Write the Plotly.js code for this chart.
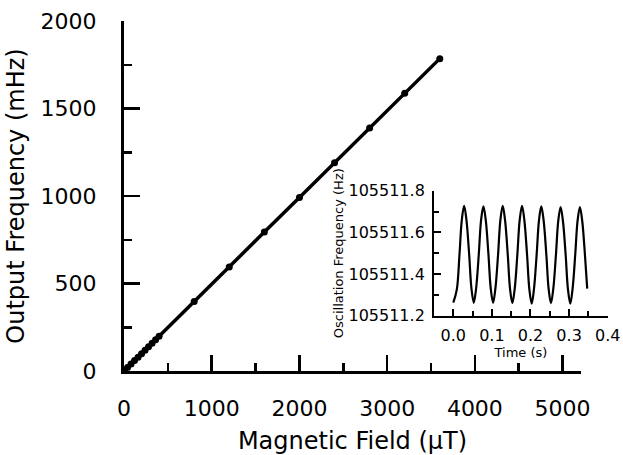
<!DOCTYPE html>
<html>
<head>
<meta charset="utf-8">
<script src="https://cdn.plot.ly/plotly-3.0.1.min.js"></script>
<style>html,body{margin:0;padding:0;background:#fff;}#chart{width:623px;height:455px;}</style>
</head>
<body>
<div id="chart"></div>
<script>
// Main series: magnetic field (µT) vs output frequency (mHz)
const fieldUT = [0, 40, 80, 120, 160, 200, 240, 280, 320, 360, 400, 800, 1200, 1600, 2000, 2400, 2800, 3200, 3600];
const outputMHz = [0, 20, 40, 60, 79, 99, 119, 139, 159, 179, 198, 397, 595, 794, 992, 1190, 1389, 1587, 1785];

// Inset series: time (s) vs oscillation frequency (Hz)
const timeS = [0.000, 0.009, 0.016, 0.022, 0.028, 0.034, 0.041, 0.047, 0.053, 0.059, 0.066, 0.072, 0.078, 0.084, 0.091, 0.097,
  0.103, 0.109, 0.116, 0.122, 0.128, 0.134, 0.141, 0.147, 0.153, 0.159, 0.166, 0.172, 0.178, 0.184, 0.191, 0.197,
  0.203, 0.209, 0.216, 0.222, 0.228, 0.234, 0.241, 0.247, 0.253, 0.259, 0.266, 0.272, 0.278, 0.284, 0.291, 0.297,
  0.303, 0.309, 0.316, 0.322, 0.328, 0.334, 0.341, 0.347];
const oscHz = [105511.263, 105511.325, 105511.495, 105511.660, 105511.728, 105511.660, 105511.495, 105511.330,
  105511.262, 105511.330, 105511.495, 105511.660, 105511.725, 105511.660, 105511.495, 105511.330,
  105511.262, 105511.330, 105511.495, 105511.660, 105511.728, 105511.660, 105511.495, 105511.328,
  105511.260, 105511.328, 105511.495, 105511.660, 105511.728, 105511.660, 105511.495, 105511.328,
  105511.258, 105511.328, 105511.495, 105511.658, 105511.725, 105511.658, 105511.495, 105511.328,
  105511.260, 105511.328, 105511.495, 105511.656, 105511.722, 105511.656, 105511.495, 105511.328,
  105511.258, 105511.328, 105511.495, 105511.656, 105511.722, 105511.656, 105511.495, 105511.330];

const xTitle = 'Magnetic Field (\u03BCT)';
const yTitle = 'Output Frequency (mHz)';
const x2Title = 'Time (s)';
const y2Title = 'Oscillation Frequency (Hz)';
const x2TickVals = [0, 0.1, 0.2, 0.3, 0.4];
const x2TickText = ['0.0', '0.1', '0.2', '0.3', '0.4'];

const FONT = 'DejaVu Sans, Liberation Sans, Arial, sans-serif';

const traces = [
  {
    x: fieldUT, y: outputMHz, type: 'scatter', mode: 'lines+markers',
    line: {color: '#000', width: 3.5},
    marker: {color: '#000', size: 7},
    xaxis: 'x', yaxis: 'y', showlegend: false, hoverinfo: 'skip'
  },
  {
    x: timeS, y: oscHz, type: 'scatter', mode: 'lines',
    line: {color: '#000', width: 2.2, shape: 'spline', smoothing: 1},
    xaxis: 'x2', yaxis: 'y2', showlegend: false, hoverinfo: 'skip', cliponaxis: false
  }
];

const layout = {
  width: 623, height: 455,
  margin: {l: 124, r: 10, t: 21, b: 84},
  paper_bgcolor: '#fff', plot_bgcolor: 'rgba(0,0,0,0)',
  font: {family: FONT, color: '#000'},
  showlegend: false,
  xaxis: {
    domain: [0, 0.9346], range: [0, 5210], anchor: 'y',
    showgrid: false, zeroline: false,
    showline: true, linecolor: '#000', linewidth: 3,
    ticks: 'inside', ticklen: 16, tickwidth: 2.5, tickcolor: '#000',
    dtick: 1000, tick0: 0,
    minor: {ticks: 'inside', ticklen: 8, tickwidth: 2.5, tickcolor: '#000', dtick: 500, showgrid: false},
    tickfont: {size: 22, family: FONT},
    ticklabelstandoff: 16,
    title: {text: xTitle, font: {size: 24, family: FONT}, standoff: 12}
  },
  yaxis: {
    domain: [0, 1], range: [0, 2000], anchor: 'x',
    showgrid: false, zeroline: false,
    showline: true, linecolor: '#000', linewidth: 3,
    ticks: 'inside', ticklen: 16, tickwidth: 2.5, tickcolor: '#000',
    dtick: 500, tick0: 0,
    minor: {ticks: 'inside', ticklen: 8, tickwidth: 2.5, tickcolor: '#000', dtick: 250, showgrid: false},
    tickfont: {size: 22, family: FONT},
    ticklabelstandoff: 20,
    title: {text: yTitle, font: {size: 24, family: FONT}, standoff: 10}
  },
  xaxis2: {
    domain: [0.634, 0.9895], range: [-0.05, 0.4005], anchor: 'y2',
    showgrid: false, zeroline: false,
    showline: true, linecolor: '#000', linewidth: 2,
    ticks: 'inside', ticklen: 7, tickwidth: 2, tickcolor: '#000',
    tickmode: 'array', tickvals: x2TickVals, ticktext: x2TickText,
    ticklabeloverflow: 'allow',
    minor: {ticks: 'inside', ticklen: 5, tickwidth: 2, tickcolor: '#000', dtick: 0.05, tick0: 0, showgrid: false},
    tickfont: {size: 16, family: FONT},
    ticklabelstandoff: 4,
    title: {text: x2Title, font: {size: 13, family: FONT}, standoff: 2}
  },
  yaxis2: {
    domain: [0.158, 0.515], range: [105511.2, 105511.8], anchor: 'x2',
    showgrid: false, zeroline: false,
    showline: true, linecolor: '#000', linewidth: 2,
    ticks: 'inside', ticklen: 7, tickwidth: 2, tickcolor: '#000',
    dtick: 0.2, tick0: 105511.2, tickformat: '.1f',
    minor: {ticks: 'inside', ticklen: 5, tickwidth: 2, tickcolor: '#000', dtick: 0.1, showgrid: false},
    tickfont: {size: 16, family: FONT},
    ticklabelstandoff: 4,
    title: {text: y2Title, font: {size: 13, family: FONT}, standoff: 2}
  }
};

Plotly.newPlot('chart', traces, layout, {staticPlot: true, displayModeBar: false});
</script>
</body>
</html>
